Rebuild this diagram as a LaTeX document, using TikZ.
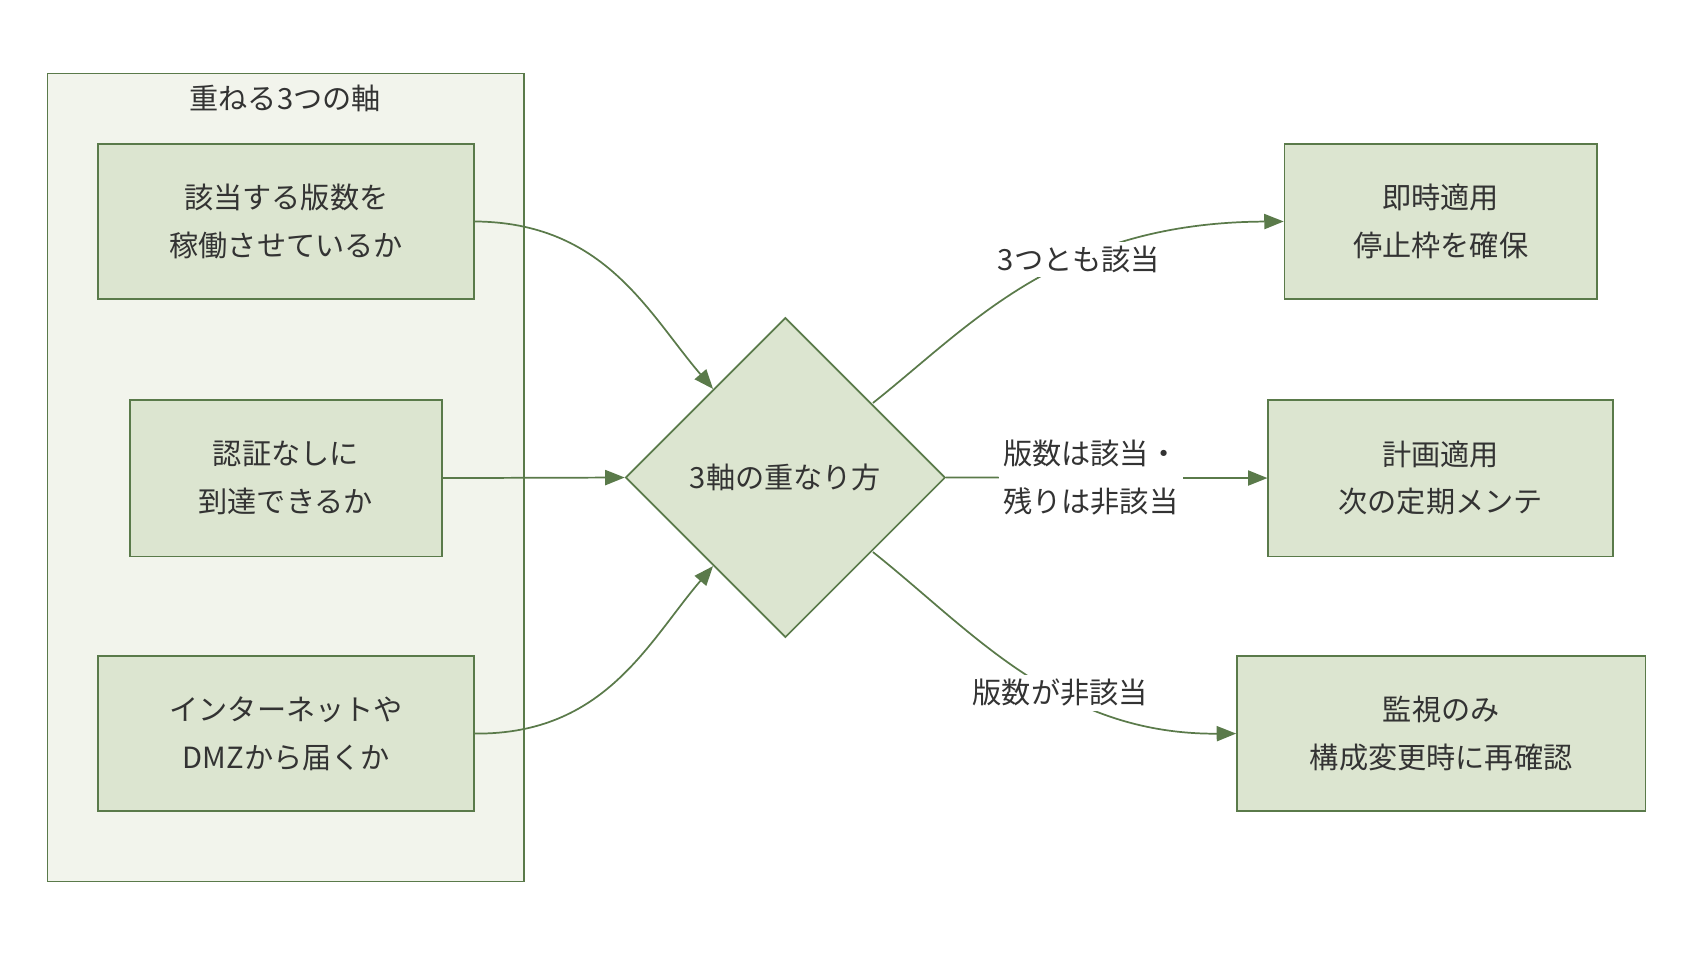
\documentclass[tikz,border=0pt]{standalone}
\usepackage{fontspec}
\setmainfont{Noto Sans CJK JP}
\usetikzlibrary{shapes.geometric, arrows.meta}
\definecolor{edgegreen}{HTML}{5A7A4A}
\definecolor{boxfill}{HTML}{DCE5D0}
\definecolor{panelfill}{HTML}{F2F4EC}
\definecolor{txt}{HTML}{333333}
\tikzset{->,>={Triangle[length=9pt,width=7pt]},
every node/.style={font=\fontsize{13.5}{22}\selectfont, text=txt},
axis/.style={draw=edgegreen, fill=boxfill, thick, align=center, inner sep=0pt},
lbl/.style={fill=white, align=center, inner sep=2pt},
}
\begin{document}
\begin{tikzpicture}[x=0.5pt, y=-0.5pt, draw=edgegreen, line width=0.8pt]
    \useasboundingbox (0,0) rectangle (1568,889);
    \draw[-, fill=panelfill] (44,68) rectangle (485,816);
    \node (title) at (264,91) {重ねる3つの軸};
    \node[axis, minimum width=174pt, minimum height=72pt] (ver) at (265,205) {該当する版数を\\稼働させているか};
    \node[axis, minimum width=144.5pt, minimum height=72.5pt] (auth) at (264.5,442.5) {認証なしに\\到達できるか};
    \node[axis, minimum width=174pt, minimum height=72pt] (net) at (265,679) {インターネットや\\DMZから届くか};
    \node[axis, diamond, minimum width=148pt, minimum height=148pt, aspect=1] (how) at (727,442) {3軸の重なり方};
    \node[axis, minimum width=144.5pt, minimum height=72pt] (now) at (1333.5,205) {即時適用\\停止枠を確保};
    \node[axis, minimum width=159.5pt, minimum height=72.5pt] (plan) at (1333.5,442.5) {計画適用\\次の定期メンテ};
    \node[axis, minimum width=189pt, minimum height=72pt] (watch) at (1334,679) {監視のみ\\構成変更時に再確認};
    \draw
        (ver.east) .. controls (560,206) and (600,290) .. (660,360);
    \draw (auth.east) -- (how.west);
    \draw (net.east) .. controls (560,680) and (600,594) .. (660,524);
    \draw (808,373) .. controls (900,300) and (980,206) .. (now.west)
        node[lbl, pos=0.62] {3つとも該当};
    \draw (how.east) -- (plan.west)
        node[lbl, pos=0.45] {版数は該当・\\残りは非該当};
    \draw (808,511) .. controls (900,584) and (980,680) .. (watch.west)
        node[lbl, pos=0.6] {版数が非該当};
\end{tikzpicture}
\end{document}
